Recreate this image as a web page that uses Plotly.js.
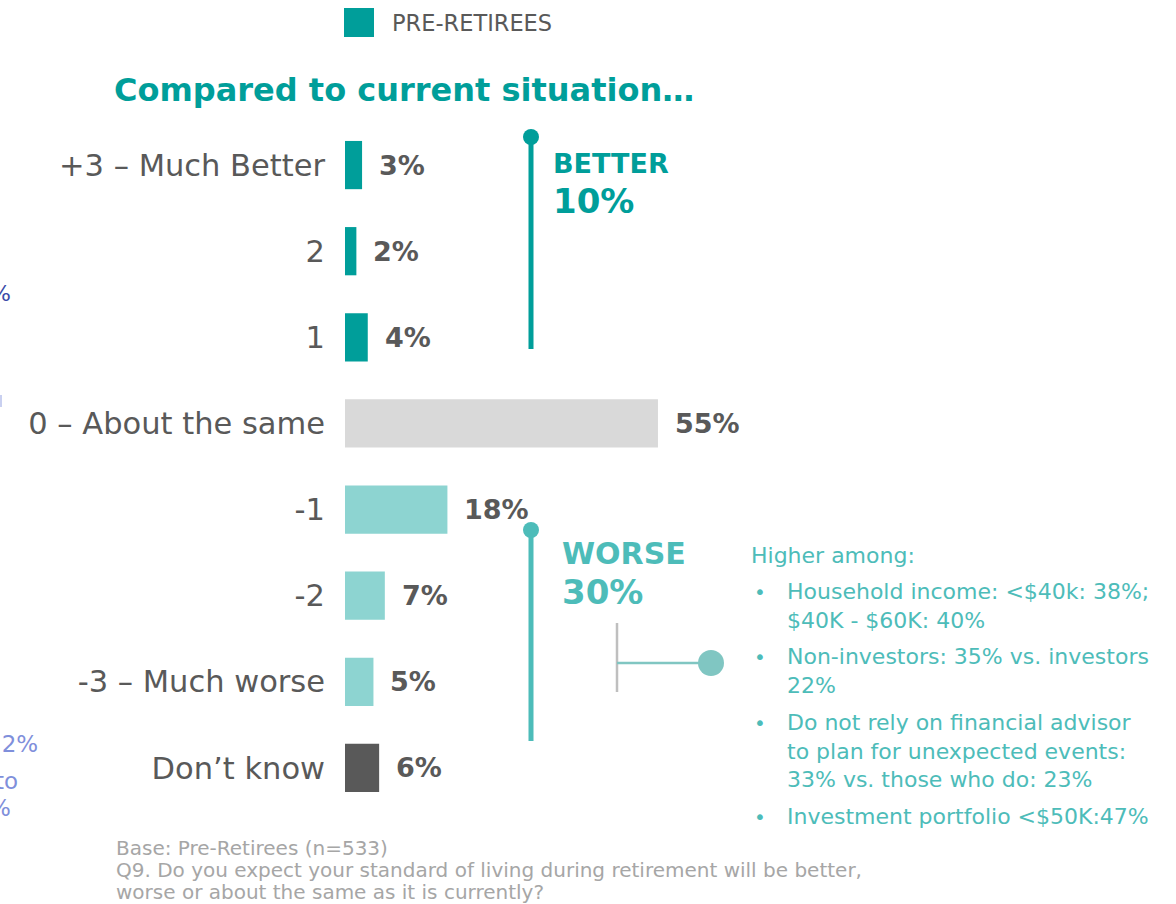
<!DOCTYPE html>
<html>
<head>
<meta charset="utf-8">
<script src="https://cdn.plot.ly/plotly-3.0.1.min.js"></script>
<style>html,body{margin:0;padding:0;background:#fff;}#chart{width:1176px;height:904px;}</style>
</head>
<body>
<div id="chart"></div>
<script>
// ---- data ----
const categories = ["+3 – Much Better", "2", "1", "0 – About the same", "-1", "-2", "-3 – Much worse", "Don’t know"];
const values = [3, 2, 4, 55, 18, 7, 5, 6];
const valueLabels = ["3%", "2%", "4%", "55%", "18%", "7%", "5%", "6%"];
const seriesName = "PRE-RETIREES";
const betterLabel = "BETTER";
const betterValue = "10%";
const worseLabel = "WORSE";
const worseValue = "30%";
const chartTitle = "Compared to current situation…";
const higherHeading = "Higher among:";
const higherItems = [
  "Household income: <$40k: 38%;<br>$40K - $60K: 40%",
  "Non-investors: 35% vs. investors<br>22%",
  "Do not rely on financial advisor<br>to plan for unexpected events:<br>33% vs. those who do: 23%",
  "Investment portfolio <$50K:47%"
];
const footerLines = [
  "Base: Pre-Retirees (n=533)",
  "Q9. Do you expect your standard of living during retirement will be better,",
  "worse or about the same as it is currently?"
];
const leftFragments = ["%", "22%", "to", "%"];

// ---- styles ----
const TEAL = "#009E9A", LTEAL = "#8DD4D1", GREY = "#D9D9D9", DARK = "#595959", WTEAL = "#4DBCB9";
const barColors = [TEAL, TEAL, TEAL, GREY, LTEAL, LTEAL, LTEAL, DARK];
const FONT = "DejaVu Sans";

const W = 1176, H = 904;
const ml = 345, mr = 6, mt = 122, mb = 93;
const pw = W - ml - mr, ph = H - mt - mb;
const px = x => (x - ml) / pw;
const py = y => 1 - (y - mt) / ph;

const trace = {
  type: "bar", orientation: "h",
  y: categories, x: values,
  marker: {color: barColors},
  width: 0.56,
  hoverinfo: "skip",
  showlegend: false
};

const ann = [];
values.forEach((v, i) => {
  ann.push({xref: "x", yref: "y", x: v, y: i, text: "<b>" + valueLabels[i] + "</b>",
    xanchor: "left", yanchor: "middle", xshift: 15, showarrow: false,
    font: {family: FONT, size: 27, color: DARK}});
});
function txt(x, y, text, size, color, opts) {
  ann.push(Object.assign({xref: "paper", yref: "paper", x: px(x), y: py(y), text: text,
    xanchor: "left", yanchor: "middle", showarrow: false,
    font: {family: FONT, size: size, color: color}}, opts || {}));
}
// legend
txt(390, 23, seriesName, 22.5, DARK);
// title
txt(112, 90, "<b>" + chartTitle + "</b>", 32, TEAL);
// better / worse
txt(551, 163, "<b>" + betterLabel + "</b>", 27, TEAL);
txt(551, 201, "<b>" + betterValue + "</b>", 34, TEAL);
txt(560, 553, "<b>" + worseLabel + "</b>", 30, WTEAL);
txt(560, 592, "<b>" + worseValue + "</b>", 34, WTEAL);
// higher among
txt(749, 555, higherHeading, 22, WTEAL);
const firstLineY = [592, 657, 723, 817];
higherItems.forEach((t, i) => {
  txt(752, firstLineY[i], "•", 20, WTEAL);
  txt(785, firstLineY[i] - 15, t, 22, WTEAL, {yanchor: "top", align: "left"});
});
// footer
footerLines.forEach((t, i) => txt(114, 848 + i * 22, t, 20, "#A6A6A6"));
// left cropped fragments (cut by the page edge, as in the source)
txt(13, 293, leftFragments[0], 22, "#3A4BA8", {xanchor: "right"});
txt(40, 744, leftFragments[1], 23, "#7F8FDB", {xanchor: "right"});
txt(20, 781, leftFragments[2], 23, "#7F8FDB", {xanchor: "right"});
txt(13, 808, leftFragments[3], 23, "#7F8FDB", {xanchor: "right"});

const shapes = [];
function line(x0, y0, x1, y1, color, w) {
  shapes.push({type: "line", xref: "paper", yref: "paper", x0: px(x0), y0: py(y0), x1: px(x1), y1: py(y1),
    line: {color: color, width: w}});
}
function circ(cx, cy, r, color) {
  shapes.push({type: "circle", xref: "paper", yref: "paper", x0: px(cx - r), x1: px(cx + r), y0: py(cy + r), y1: py(cy - r),
    fillcolor: color, line: {width: 0}});
}
// legend swatch
shapes.push({type: "rect", xref: "paper", yref: "paper", x0: px(344), x1: px(374), y0: py(37), y1: py(8), fillcolor: TEAL, line: {width: 0}});
// better bracket
line(531, 137, 531, 349, TEAL, 5);
circ(531, 137, 8, TEAL);
// worse bracket
line(531, 530, 531, 741, WTEAL, 5);
circ(531, 530, 8, WTEAL);
// connector
line(617, 623, 617, 692, "#BFBFBF", 2.5);
line(617, 663, 705, 663, "#80C6C2", 2.5);
circ(711, 663, 13, "#80C6C2");
// left sliver
shapes.push({type: "rect", xref: "paper", yref: "paper", x0: px(0), x1: px(2), y0: py(407), y1: py(395), fillcolor: "#C9D0F0", line: {width: 0}});

const layout = {
  width: W, height: H,
  margin: {l: ml, r: mr, t: mt, b: mb, pad: 0},
  paper_bgcolor: "#fff", plot_bgcolor: "#fff",
  xaxis: {range: [0, pw / 5.69], visible: false, fixedrange: true},
  yaxis: {type: "category", categoryorder: "array", categoryarray: categories, range: [7.5, -0.5], autorange: false,
    showgrid: false, zeroline: false, showline: false, ticks: "", ticklabelstandoff: 19,
    tickfont: {family: FONT, size: 30.5, color: DARK}},
  showlegend: false,
  annotations: ann,
  shapes: shapes
};
Plotly.newPlot("chart", [trace], layout, {staticPlot: true, displayModeBar: false});
</script>
</body>
</html>
